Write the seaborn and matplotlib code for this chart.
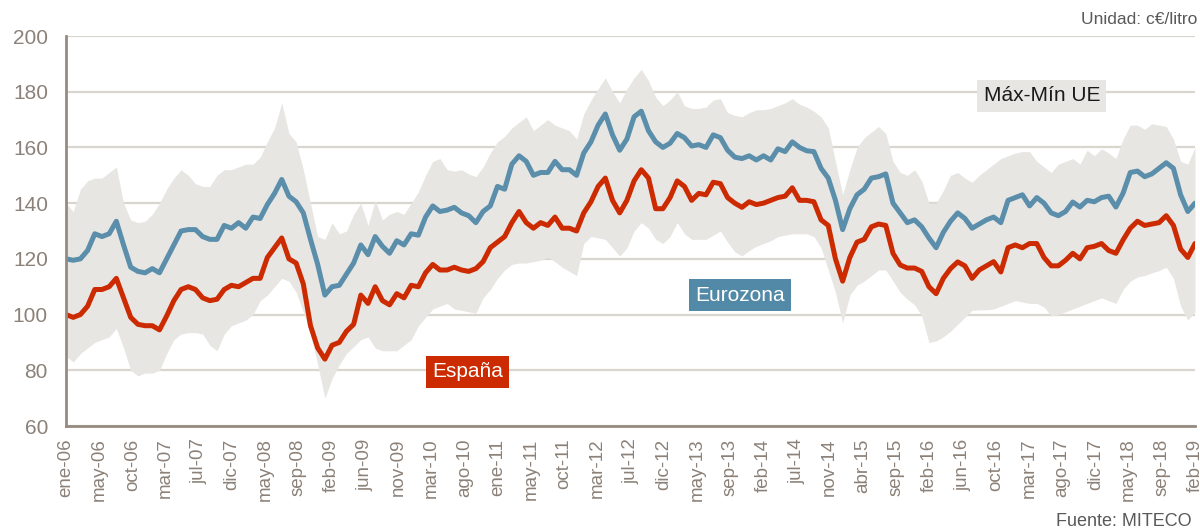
import numpy as np
import pandas as pd
import matplotlib
matplotlib.use("Agg")
import matplotlib.pyplot as plt
import seaborn as sns

# Monthly series, ene-2006 .. feb-2019 (c€/litro)
espana = [
    100, 99, 100, 103, 109, 109, 110, 113, 106, 99, 96.5, 96, 96, 94.5, 99.5, 105, 109, 110, 109, 106, 105, 105.5, 109, 110.5, 110, 111.5, 113,
    113, 120.5, 124, 127.5, 120, 118.5, 111, 96, 88, 84, 89, 90, 94, 96.5, 107, 104, 110, 105, 103.5, 107.5, 106, 110.5, 110, 115, 118, 116, 116,
    117, 116, 115.5, 116.5, 119, 124, 126, 128, 133, 137, 133, 131, 133, 132, 135, 131, 131, 130, 136.5, 140.5, 146, 149, 141, 136.5, 141, 148, 152,
    149, 138, 138, 142, 148, 146, 141, 143.5, 143, 147.5, 147, 142, 140, 138.5, 140.5, 139.5, 140, 141, 142, 142.5, 145.5, 141, 141, 140.5, 134, 132, 120,
    112, 120.5, 126, 127, 131.5, 132.5, 132, 122, 117.8, 116.7, 116.7, 115.5, 110, 107.5, 113, 116.5, 118.9, 117.5, 113, 116, 117.5, 119, 115.3, 124, 125, 124, 125.5,
    125.5, 120.5, 117.5, 117.5, 119.5, 122, 120, 124, 124.5, 125.5, 123, 122, 126.8, 131, 133.5, 132, 132.5, 133, 135.5, 132, 123.5, 120.5, 125.5,
]

eurozona = [
    120, 119.5, 120, 123, 129, 128, 129, 133.5, 125, 117, 115.5, 115, 116.5, 115, 120, 125, 130, 130.5, 130.5, 128, 127, 127, 132, 131, 133, 131, 135,
    134.5, 139.5, 143.5, 148.5, 142.5, 140.5, 136.5, 127, 118, 107, 110, 110.5, 114.5, 118.5, 125, 121.5, 128, 124.5, 122, 126.5, 125, 129, 128.5, 135, 139, 137, 137.5,
    138.5, 136.5, 135.5, 133, 137, 139, 146, 145, 154, 157, 155, 150, 151, 151, 155, 152, 152, 150, 158, 162, 168, 172, 164.5, 159, 163, 171, 173,
    166, 162, 160, 161.5, 165, 163.5, 160.5, 161, 160, 164.5, 163.5, 159, 156.5, 156, 157, 155.5, 157, 155.5, 159.5, 158.5, 162, 160, 158.8, 158.5, 152.5, 149, 141,
    130.5, 138, 143, 145, 149, 149.5, 150.5, 140, 136.5, 133, 134, 131.5, 127.5, 124, 129.5, 133.5, 136.5, 134.5, 131, 132.5, 134, 135, 133, 141, 142, 143, 139,
    142, 140, 136.5, 135.5, 137, 140.4, 138.6, 141, 140.5, 142, 142.5, 138.6, 143.6, 151, 151.5, 149.5, 150.5, 152.5, 154.5, 152.5, 143, 137, 140,
]

ue_max = [
    140, 137, 145, 148, 149, 149, 151, 153, 140, 134, 133, 133.5, 136, 140, 145, 149, 152, 150, 147, 146, 146, 150, 152, 152, 153, 154, 154,
    156.5, 162, 167, 176, 165, 162, 152, 140, 128, 127, 133, 129, 130, 136, 140, 132, 141, 134, 136, 137, 136, 140, 144, 150, 155, 156, 152,
    151.5, 152, 150.5, 149.5, 153, 158, 162, 164, 167, 169, 171, 166, 168, 170, 168, 167, 166, 163, 172, 177, 181, 185, 180, 176, 181, 185, 188,
    184, 178, 175, 177, 180, 175, 174, 174, 174.5, 177, 177.5, 172.5, 171.5, 171, 172.5, 173.5, 173.5, 174, 175, 176, 177.5, 175.5, 174.5, 173, 171, 167, 155,
    143, 152, 160, 163.5, 165.5, 167.5, 165, 155, 151, 150, 152, 148, 140, 140, 144.5, 150, 151, 149, 147.5, 150, 152, 154, 156, 157, 158, 158.5, 158.5,
    155, 153, 151, 154, 155, 156, 154, 159, 157, 159.5, 158, 156, 163, 168, 168, 166.5, 168.5, 168, 167.5, 163, 155, 154, 160,
]

ue_min = [
    85, 83, 86, 88, 90, 91, 92, 95, 88, 80, 78, 79, 79, 80, 86, 91, 93, 93.5, 93.5, 93, 89, 87, 93, 96, 97, 98, 100,
    105, 107, 110, 113, 112, 108, 101, 93, 82, 70, 77, 82, 86, 88.5, 91, 92, 88, 87, 87, 87, 89, 91, 96, 99, 102, 103, 104,
    102, 101.5, 101, 100.5, 106, 109, 113, 116, 118, 118.5, 118.5, 119, 119.5, 120.5, 119, 117, 115.5, 114, 125.5, 128, 127.5, 127, 124, 121, 124, 130, 133,
    131, 127, 125.5, 128, 133, 129, 127, 127, 127, 128.5, 130, 126, 122.5, 121, 123, 124.5, 125.5, 126.5, 128, 128.5, 129, 129, 129, 128, 124, 116, 108,
    97, 107, 110.5, 112, 114, 116, 116, 112, 108, 105.5, 103.5, 99.5, 90, 90.5, 92, 94, 96.5, 99, 101.5, 101.7, 101.7, 102, 103, 104, 105, 104.5, 104,
    104, 102.7, 99.5, 100, 101, 102, 103, 104, 105, 106, 105, 104, 109, 112, 113.5, 114, 115, 115.8, 117, 113, 103, 98, 101,
]

tick_labels = [
    "ene-06", "may-06", "oct-06", "mar-07", "jul-07", "dic-07", "may-08", "sep-08",
    "feb-09", "jun-09", "nov-09", "mar-10", "ago-10", "ene-11", "may-11", "oct-11",
    "mar-12", "jul-12", "dic-12", "may-13", "sep-13", "feb-14", "jul-14", "nov-14",
    "abr-15", "sep-15", "feb-16", "jun-16", "oct-16", "mar-17", "ago-17", "dic-17",
    "may-18", "sep-18", "feb-19",
]

RED = "#cc2a00"
BLUE = "#5a8eab"
BAND = "#e7e6e2"
AXIS = "#958b80"
TICK = "#8b8178"
GRID = "#d9d6d0"

sns.set_theme(style="white")
plt.rcParams["font.family"] = ["Liberation Sans", "DejaVu Sans"]

n = len(espana)
x = np.arange(n)
df = pd.DataFrame({
    "mes": np.concatenate([x, x]),
    "precio": espana + eurozona,
    "serie": ["España"] * n + ["Eurozona"] * n,
})

fig = plt.figure(figsize=(12, 5.31), dpi=100)
ax = fig.add_axes([66 / 1200, 1 - 426 / 531, (1195 - 66) / 1200, (426 - 36) / 531])

ax.fill_between(x, ue_min, ue_max, color=BAND, lw=0, zorder=1)
sns.lineplot(data=df, x="mes", y="precio", hue="serie",
             palette={"España": RED, "Eurozona": BLUE},
             linewidth=3.6, legend=False, ax=ax, zorder=3)

ax.set_xlim(0, n - 1)
ax.set_ylim(60, 200)
ax.set_yticks(range(60, 201, 20))
ax.set_xticks(np.linspace(0, n - 1, len(tick_labels)))
ax.set_xticklabels(tick_labels, rotation=90)
ax.set_xlabel("")
ax.set_ylabel("")

ax.yaxis.grid(True, color=GRID, lw=1.6, zorder=0)
ax.xaxis.grid(False)
ax.set_axisbelow(True)
for side in ("top", "right"):
    ax.spines[side].set_visible(False)
for side in ("left", "bottom"):
    ax.spines[side].set_color(AXIS)
    ax.spines[side].set_linewidth(2)
    ax.spines[side].set_zorder(4)

ax.tick_params(axis="y", length=0, pad=13, labelsize=15, labelcolor=TICK)
ax.tick_params(axis="x", length=0, pad=9, labelsize=13.5, labelcolor=TICK)

box = dict(boxstyle="square,pad=0.3", ec="none")
ax.text(135.7, 178.5, "Máx-Mín UE", fontsize=15, color="#1a1a1a",
        ha="center", va="center", bbox={**box, "fc": BAND}, zorder=5)
ax.text(93.7, 107, "Eurozona", fontsize=15, color="white",
        ha="center", va="center", bbox={**box, "fc": "#5289a6"}, zorder=5)
ax.text(55.8, 79.4, "España", fontsize=15, color="white",
        ha="center", va="center", bbox={**box, "fc": RED}, zorder=5)

fig.text(1197 / 1200, 1 - 20 / 531, "Unidad: c€/litro", fontsize=12.5,
         color="#595959", ha="right", va="center")
fig.text(1192 / 1200, 1 - 522 / 531, "Fuente: MITECO", fontsize=13,
         color="#595959", ha="right", va="center")

fig.savefig("out.png", dpi=100)
